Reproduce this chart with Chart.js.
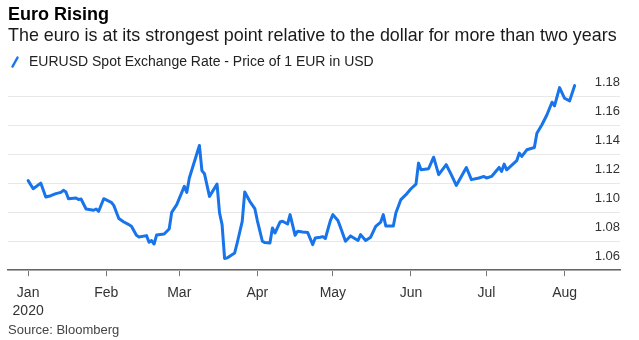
<!DOCTYPE html>
<html>
<head>
<meta charset="utf-8">
<script src="https://cdn.jsdelivr.net/npm/chart.js@4"></script>
<style>
  body { margin: 0; background: #fff; }
  #wrap { position: relative; width: 639px; height: 340px; }
  #source { position: absolute; left: 8px; top: 322px; font: 13px "Liberation Sans", Arial, sans-serif; color: #444; }
</style>
</head>
<body>
<div id="wrap">
  <canvas id="myChart" width="639" height="340"></canvas>
  <div id="source">Source: Bloomberg</div>
</div>
<script>
// days counted from 1 Jan 2020
const tradingDays = [0, 2, 5, 7, 9, 11, 13, 14, 15, 16, 19, 20, 21, 23, 26, 27, 28, 30, 33, 34,
  36, 38, 40, 41, 43, 44, 47, 48, 49, 50, 51, 54, 56, 57, 59, 62, 63, 64, 68, 69,
  70, 72, 75, 76, 77, 78, 79, 82, 83, 85, 86, 88, 90, 91, 93, 94, 96, 97, 98, 100,
  101, 103, 104, 106, 107, 109, 111, 113, 114, 116, 117, 118, 120, 121, 123, 124, 126, 128, 131, 132,
  134, 136, 138, 140, 141, 142, 145, 146, 148, 150, 152, 154, 155, 156, 159, 161, 163, 166, 168, 170,
  174, 176, 179, 181, 182, 184, 187, 188, 189, 190, 194, 195, 196, 198, 201, 202, 204, 206, 208, 209,
  211, 213, 215, 217];
const eurusd = [1.1219, 1.1163, 1.1202, 1.1106, 1.1115, 1.1129, 1.1138, 1.1152, 1.1140, 1.1094, 1.1099, 1.1088, 1.1092, 1.1023, 1.1014, 1.1023, 1.1007, 1.1094, 1.1069, 1.1048,
  1.0957, 1.0933, 1.0915, 1.0903, 1.0841, 1.0830, 1.0839, 1.0793, 1.0805, 1.0781, 1.0843, 1.0850, 1.0885, 1.1000, 1.1053, 1.1179, 1.1138, 1.1237, 1.1462, 1.1288,
  1.1267, 1.1110, 1.1195, 1.0995, 1.0915, 1.0681, 1.0685, 1.0719, 1.0788, 1.0938, 1.1140, 1.1076, 1.1026, 1.0943, 1.0800, 1.0791, 1.0788, 1.0892, 1.0857, 1.0933,
  1.0938, 1.0919, 1.0984, 1.0841, 1.0869, 1.0864, 1.0860, 1.0777, 1.0823, 1.0828, 1.0832, 1.0819, 1.0943, 1.0984, 1.0943, 1.0897, 1.0800, 1.0837, 1.0805, 1.0846,
  1.0805, 1.0828, 1.0903, 1.0933, 1.0984, 1.0906, 1.0906, 1.0995, 1.1088, 1.1122, 1.1163, 1.1195, 1.1340, 1.1294, 1.1301, 1.1381, 1.1260, 1.1329, 1.1260, 1.1186,
  1.1310, 1.1226, 1.1237, 1.1248, 1.1237, 1.1248, 1.1310, 1.1283, 1.1333, 1.1294, 1.1357, 1.1409, 1.1386, 1.1432, 1.1448, 1.1547, 1.1605, 1.1674, 1.1761, 1.1736,
  1.1862, 1.1788, 1.1770, 1.1876];

const monthStarts = [0, 31, 60, 91, 121, 152, 182, 213];
const monthLabels = [['Jan', '2020'], 'Feb', 'Mar', 'Apr', 'May', 'Jun', 'Jul', 'Aug'];
const yTicks = [1.06, 1.08, 1.10, 1.12, 1.14, 1.16, 1.18];

const seriesName = 'EURUSD Spot Exchange Rate - Price of 1 EUR in USD';
const blue = '#1774ea';
const font = '"Liberation Sans", Arial, sans-serif';

// little slash used as legend marker
const slash = document.createElement('canvas');
slash.width = 8;
slash.height = 12;
const sctx = slash.getContext('2d');
sctx.strokeStyle = blue;
sctx.lineWidth = 2.5;
sctx.lineCap = 'round';
sctx.beginPath();
sctx.moveTo(1.5, 10.5);
sctx.lineTo(6.5, 1.5);
sctx.stroke();

const legendGap = {
  id: 'legendGap',
  beforeInit(chart) {
    const fit = chart.legend.fit;
    chart.legend.fit = function () {
      fit.bind(chart.legend)();
      this.height += 3;
    };
  }
};

const ctx = document.getElementById('myChart');
new Chart(ctx, {
  type: 'line',
  data: {
    datasets: [{
      label: seriesName,
      data: tradingDays.map((d, i) => ({ x: d, y: eurusd[i] })),
      borderColor: blue,
      borderWidth: 3,
      pointRadius: 0,
      tension: 0,
      borderCapStyle: 'round',
      borderJoinStyle: 'round'
    }]
  },
  options: {
    responsive: false,
    animation: false,
    layout: { padding: { left: 8, right: 19, top: 0, bottom: 12 } },
    plugins: {
      title: {
        display: true,
        text: 'Euro Rising',
        align: 'start',
        color: '#000',
        font: { family: font, size: 18, weight: 'bold' },
        padding: { top: 4, bottom: 0 }
      },
      subtitle: {
        display: true,
        text: 'The euro is at its strongest point relative to the dollar for more than two years',
        align: 'start',
        color: '#1a1a1a',
        font: { family: font, size: 17.9 },
        padding: { top: 0, bottom: 8 }
      },
      legend: {
        align: 'start',
        labels: {
          usePointStyle: true,
          pointStyleWidth: 14,
          boxHeight: 9,
          padding: 0,
          color: '#222',
          font: { family: font, size: 14 },
          generateLabels: () => [{
            text: seriesName,
            strokeStyle: blue,
            fillStyle: blue,
            lineWidth: 0,
            pointStyle: slash,
            rotation: 0,
            datasetIndex: 0,
            fontColor: '#222'
          }]
        }
      },
      tooltip: { enabled: false }
    },
    scales: {
      x: {
        type: 'linear',
        min: -8,
        max: 235,
        afterBuildTicks: axis => { axis.ticks = monthStarts.map(v => ({ value: v })); },
        grid: { drawOnChartArea: false, drawTicks: true, tickLength: 6, color: '#777', tickWidth: 1 },
        border: { display: true, color: '#666', width: 1.5 },
        ticks: {
          autoSkip: false,
          maxRotation: 0,
          padding: 7,
          color: '#333',
          font: { family: font, size: 14, lineHeight: 1.35 },
          callback: (v, i) => monthLabels[i]
        }
      },
      y: {
        position: 'right',
        min: 1.06,
        max: 1.19,
        afterBuildTicks: axis => { axis.ticks = yTicks.map(v => ({ value: v })); },
        grid: { color: '#e8e8e8', drawTicks: false },
        border: { display: false },
        ticks: {
          mirror: true,
          padding: 0,
          labelOffset: -14,
          color: '#333',
          font: { family: font, size: 13 },
          callback: v => v.toFixed(2)
        }
      }
    }
  },
  plugins: [legendGap]
});
</script>
</body>
</html>
